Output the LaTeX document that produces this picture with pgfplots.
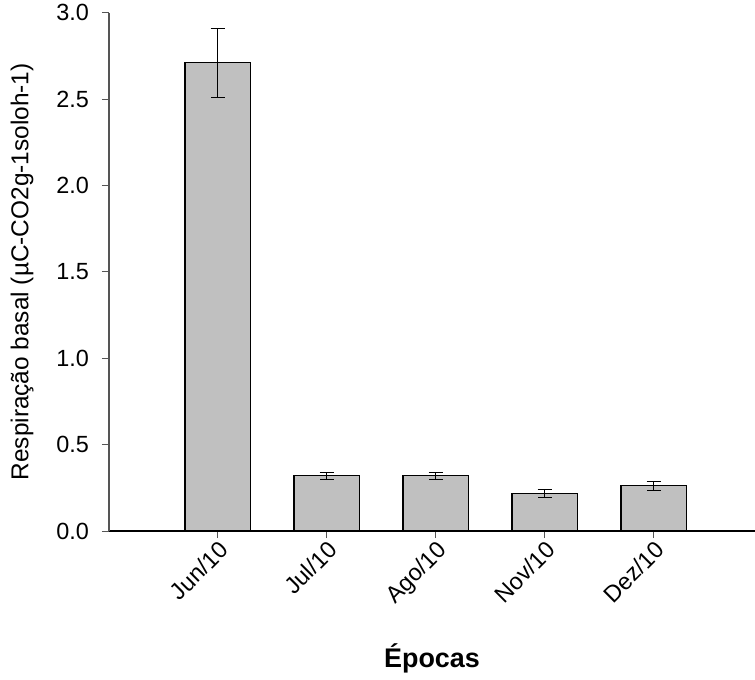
\documentclass[border=0pt]{standalone}
\usepackage{pgfplots}
\pgfplotsset{compat=1.18}
\usepackage{fontspec}
\setmainfont{Liberation Sans}
\definecolor{barfill}{RGB}{192,192,192}
\definecolor{yaxgray}{RGB}{85,85,85}
\begin{document}
\begin{tikzpicture}
\useasboundingbox (-109bp,-149bp) rectangle (646bp,531bp);
\begin{axis}[
  at={(0,0)}, anchor=south west,
  scale only axis, width=646bp, height=518.3bp,
  xmin=-0.997, xmax=4.93, ymin=0, ymax=3.0,
  axis x line*=bottom, axis y line*=left,
  x axis line style={black, line width=1.2bp},
  y axis line style={yaxgray, line width=1.2bp},
  xtick={0,1,2,3,4},
  xticklabels={Jun/10,Jul/10,Ago/10,Nov/10,Dez/10},
  ytick={0,0.5,1.0,1.5,2.0,2.5,3.0},
  tick align=outside, major tick length=7bp,
  tick style={yaxgray, line width=1bp},
  /pgf/number format/assume math mode=true,
  yticklabel={\pgfmathprintnumber[fixed,fixed zerofill,precision=1]{\tick}},
  tick label style={font=\fontsize{23.5}{28}\selectfont},
  x tick label style={rotate=45, anchor=north east, inner sep=1bp},
  y tick label style={inner sep=1bp, xshift=-12bp},
  ylabel={Respiração basal (µC-CO2g-1soloh-1)},
  ylabel style={at={(rel axis cs:0,0.5)}, anchor=center, yshift=87bp, font=\fontsize{24.5}{29}\selectfont},
  xlabel={Épocas},
  xlabel style={at={(rel axis cs:0.5,0)}, anchor=center, yshift=-127bp, font=\bfseries\fontsize{27}{32}\selectfont},
  clip=false,
]
\addplot[ybar, bar width=65.5bp, fill=barfill, draw=black, line width=1.3bp,
  error bars/.cd, y dir=both, y explicit,
  error bar style={black, line width=1bp},
  error mark options={rotate=90, mark size=7bp, line width=1bp, black}]
  coordinates {
  (0,2.71) +- (0,0.20)
  (1,0.32) +- (0,0.02)
  (2,0.32) +- (0,0.02)
  (3,0.217) +- (0,0.024)
  (4,0.262) +- (0,0.027)
};
\end{axis}
\end{tikzpicture}
\end{document}
